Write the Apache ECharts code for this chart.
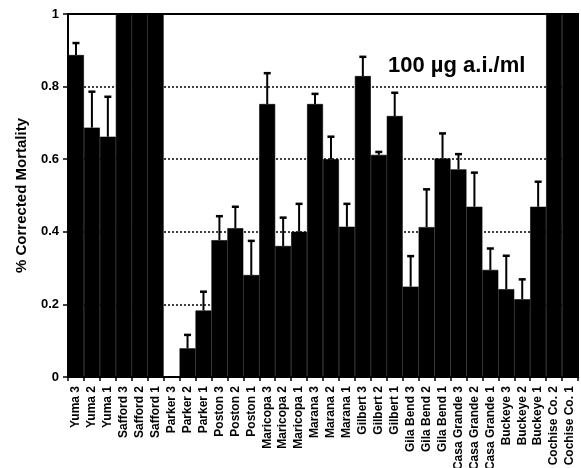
<!DOCTYPE html>
<html>
<head>
<meta charset="utf-8">
<script src="https://cdn.jsdelivr.net/npm/echarts@6/dist/echarts.min.js"></script>
<style>
html,body{margin:0;padding:0;background:#fff;}
#c{width:581px;height:468px;}
</style>
</head>
<body>
<div id="c"></div>
<script>
const categories = ["Yuma 3","Yuma 2","Yuma 1","Safford 3","Safford 2","Safford 1",
  "Parker 3","Parker 2","Parker 1","Poston 3","Poston 2","Poston 1",
  "Maricopa 3","Maricopa 2","Maricopa 1","Marana 3","Marana 2","Marana 1",
  "Gilbert 3","Gilbert 2","Gilbert 1","Gila Bend 3","Gila Bend 2","Gila Bend 1",
  "Casa Grande 3","Casa Grande 2","Casa Grande 1","Buckeye 3","Buckeye 2","Buckeye 1",
  "Cochise Co. 2","Cochise Co. 1"];
const mortality = [0.887,0.687,0.662,1,1,1,
  0,0.079,0.183,0.377,0.41,0.281,
  0.752,0.361,0.40,0.752,0.60,0.414,
  0.829,0.612,0.719,0.249,0.413,0.602,
  0.572,0.469,0.295,0.242,0.214,0.469,
  1,1];
const errorUpper = [0.92,0.786,0.772,null,null,null,
  null,0.116,0.235,0.443,0.469,0.375,
  0.837,0.439,0.477,0.78,0.662,0.477,
  0.882,0.62,0.783,0.333,0.517,0.671,
  0.614,0.563,0.354,0.334,0.269,0.538,
  null,null];
const yTicks = [0,0.2,0.4,0.6,0.8,1];
const titleText = "100 \u00b5g a.i./ml";

const chart = echarts.init(document.getElementById('c'), null, {renderer:'canvas'});
const errData = [];
errorUpper.forEach((u,i)=>{ if(u!==null) errData.push([i, mortality[i], u]); });
const FF = '"Liberation Sans", Arial, sans-serif';

chart.setOption({
  animation:false,
  backgroundColor:'#fff',
  grid:{left:68,right:3,top:14,bottom:91,containLabel:false,outerBoundsMode:'none',
    show:true,borderColor:'#000',borderWidth:2,backgroundColor:'transparent'},
  graphic:[{type:'text',left:388,top:55,style:{text:titleText,font:'bold 22px '+FF,fill:'#000'}}],
  xAxis:{type:'category',data:categories,
    axisLine:{lineStyle:{color:'#000',width:2}},
    axisTick:{show:true,length:4,lineStyle:{color:'#000',width:1.5}},
    axisLabel:{rotate:90,interval:0,margin:9,color:'#000',fontSize:12,fontWeight:'bold',fontFamily:FF},
    splitLine:{show:false}},
  yAxis:{type:'value',min:0,max:1,interval:0.2,
    name:'% Corrected Mortality',nameLocation:'middle',nameGap:39,nameRotate:90,
    nameTextStyle:{color:'#000',fontSize:15,fontWeight:'bold',fontFamily:FF},
    axisLine:{show:true,lineStyle:{color:'#000',width:2}},
    axisTick:{show:true,length:5,lineStyle:{color:'#000',width:1.5}},
    axisLabel:{color:'#000',fontSize:13,fontWeight:'bold',margin:9,fontFamily:FF,
      formatter:v=>{const t=yTicks.find(x=>Math.abs(x-v)<1e-6);return t===undefined?'':String(t);}},
    splitLine:{show:true,lineStyle:{color:'#000',type:[2,2],width:1.5}}},
  series:[
    {type:'bar',data:mortality,barCategoryGap:'0%',itemStyle:{color:'#000',borderColor:'#000',borderWidth:0.6},z:2},
    {type:'custom',data:errData,z:3,
      renderItem:function(params,api){
        const x=api.value(0);
        const p0=api.coord([x,api.value(1)]);
        const p1=api.coord([x,api.value(2)]);
        return {type:'group',children:[
          {type:'line',shape:{x1:p0[0],y1:p0[1],x2:p1[0],y2:p1[1]},style:{stroke:'#000',lineWidth:2}},
          {type:'line',shape:{x1:p1[0]-3.5,y1:p1[1],x2:p1[0]+3.5,y2:p1[1]},style:{stroke:'#000',lineWidth:2.5}}
        ]};
      }}
  ]
});
</script>
</body>
</html>
